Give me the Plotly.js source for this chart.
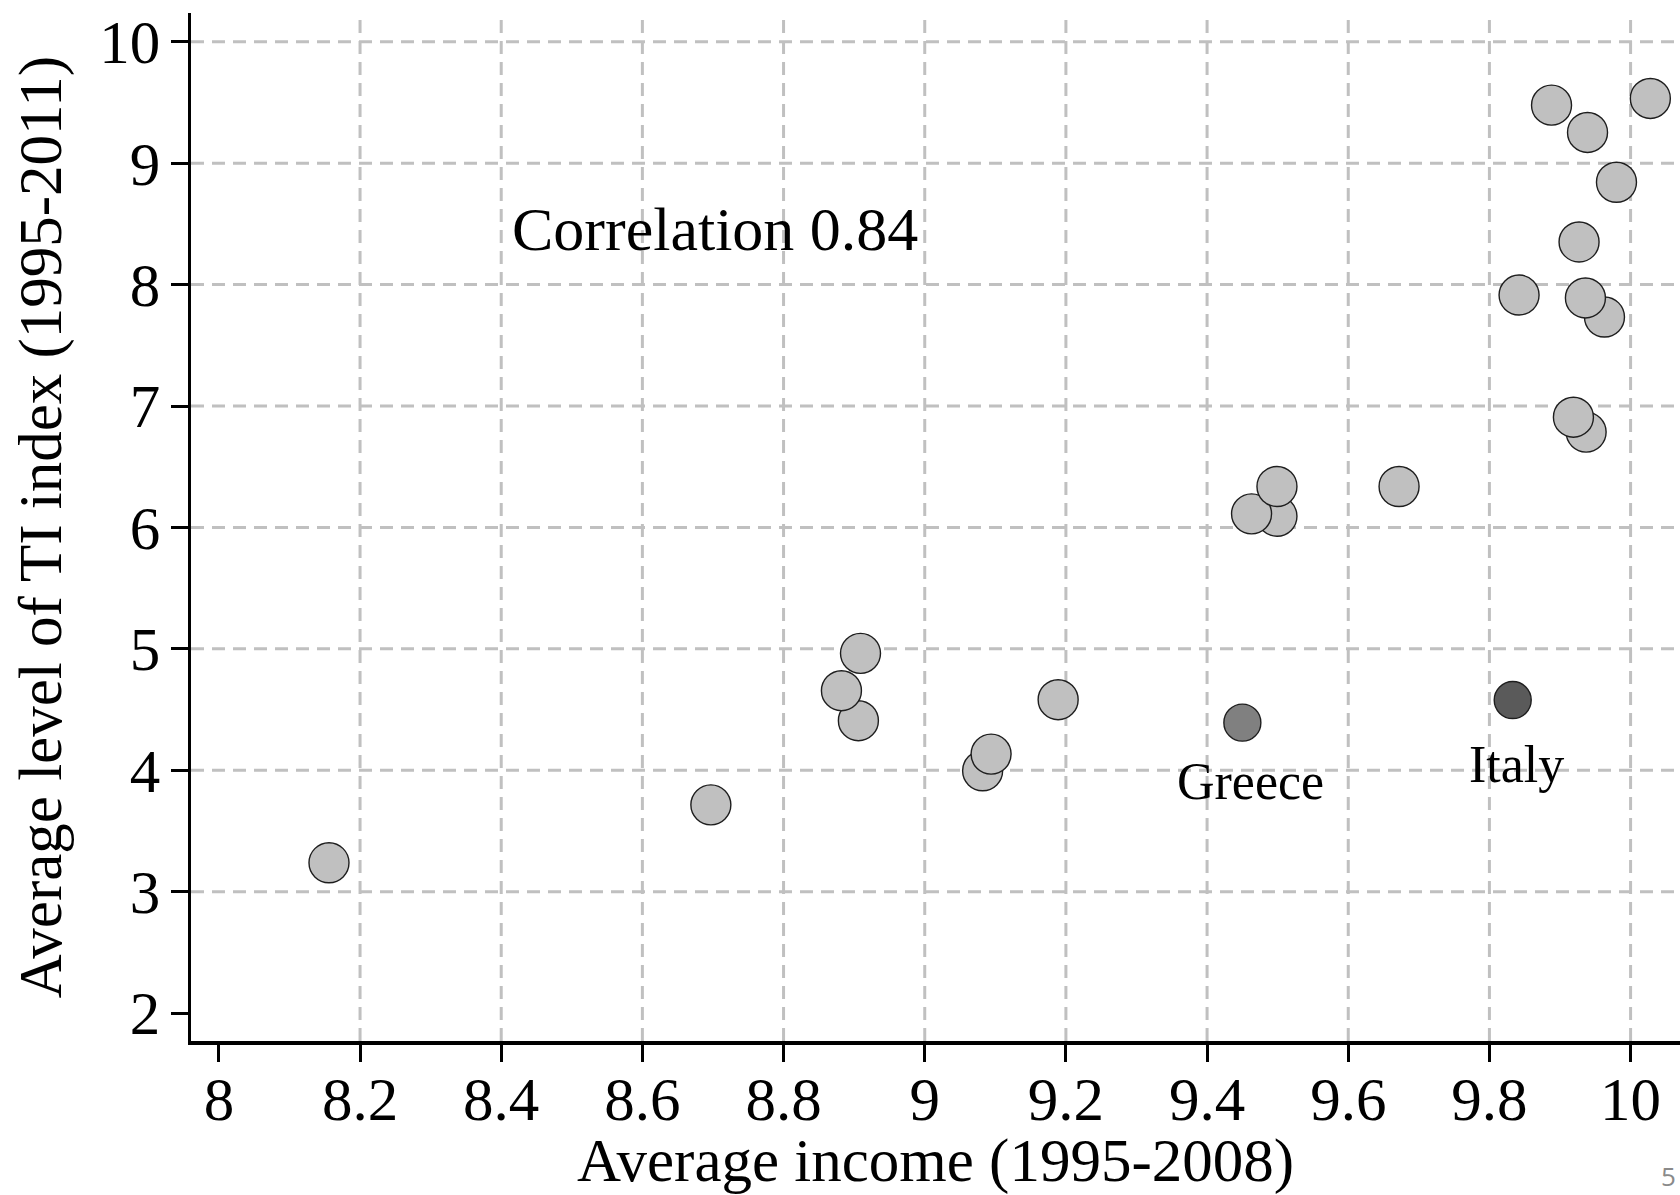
<!DOCTYPE html>
<html>
<head>
<meta charset="utf-8">
<script src="https://cdn.plot.ly/plotly-3.0.1.min.js"></script>
<style>
  html, body { margin: 0; padding: 0; background: #ffffff; }
  #chart { width: 1680px; height: 1195px; }
</style>
</head>
<body>
<div id="chart"></div>
<script>
// Other countries: average income (1995-2008) vs average TI index (1995-2011)
const incomeX = [8.156, 8.697, 8.906, 8.882, 8.909, 9.082, 9.094, 9.189, 9.499, 9.463, 9.499, 9.672, 9.888, 9.939, 10.028, 9.980, 9.927, 9.842, 9.963, 9.936, 9.937, 9.919];
const tiY     = [3.238, 3.715, 4.408, 4.655, 4.963, 3.996, 4.133, 4.581, 6.092, 6.112, 6.337, 6.337, 9.478, 9.253, 9.533, 8.843, 8.351, 7.914, 7.733, 7.890, 6.785, 6.908];

// Highlighted countries
const greeceX = [9.450];
const greeceY = [4.392];
const italyX  = [9.833];
const italyY  = [4.578];

// Axis ticks
const xTicks = [8, 8.2, 8.4, 8.6, 8.8, 9, 9.2, 9.4, 9.6, 9.8, 10];
const xTickText = ["8", "8.2", "8.4", "8.6", "8.8", "9", "9.2", "9.4", "9.6", "9.8", "10"];
const yTicks = [2, 3, 4, 5, 6, 7, 8, 9, 10];
const yTickText = ["2", "3", "4", "5", "6", "7", "8", "9", "10"];
// Gridlines drawn for these values only
const xGrid = [8.2, 8.4, 8.6, 8.8, 9, 9.2, 9.4, 9.6, 9.8, 10];
const yGrid = [3, 4, 5, 6, 7, 8, 9, 10];

const correlationText = "Correlation 0.84";

const serif = "Liberation Serif";
const gridStyle = { color: "#c0c0c0", width: 3, dash: "13px,8px" };

const shapes = [];
xGrid.forEach(v => shapes.push({
  type: "line", xref: "x", yref: "paper", x0: v, x1: v, y0: 0, y1: 1,
  line: gridStyle, layer: "below"
}));
yGrid.forEach(v => shapes.push({
  type: "line", xref: "paper", yref: "y", x0: 0, x1: 1, y0: v, y1: v,
  line: gridStyle, layer: "below"
}));

const markerLine = { color: "#1e1e1e", width: 1.4 };

const traces = [
  {
    type: "scatter", mode: "markers", x: incomeX, y: tiY,
    marker: { size: 40, color: "#c0c0c0", line: markerLine },
    hoverinfo: "x+y", showlegend: false
  },
  {
    type: "scatter", mode: "markers", x: greeceX, y: greeceY, name: "Greece",
    marker: { size: 37, color: "#808080", line: markerLine },
    showlegend: false
  },
  {
    type: "scatter", mode: "markers", x: italyX, y: italyY, name: "Italy",
    marker: { size: 37, color: "#5a5a5a", line: markerLine },
    showlegend: false
  }
];

const layout = {
  width: 1680, height: 1195,
  margin: { l: 190.7, r: 0, t: 13, b: 154 },
  paper_bgcolor: "#ffffff", plot_bgcolor: "#ffffff",
  font: { family: serif, color: "#000000", size: 60 },
  showlegend: false,
  xaxis: {
    range: [7.9605, 10.070],
    tickmode: "array", tickvals: xTicks, ticktext: xTickText,
    ticks: "outside", ticklen: 17, tickwidth: 3, tickcolor: "#000",
    showline: true, linecolor: "#000", linewidth: 3.5,
    showgrid: false, zeroline: false,
    tickfont: { family: serif, size: 61, color: "#000" },
    ticklabelstandoff: -15,
    title: { text: "Average income (1995-2008)", font: { family: serif, size: 61, color: "#000" }, standoff: 19 }
  },
  yaxis: {
    range: [1.770, 10.237],
    tickmode: "array", tickvals: yTicks, ticktext: yTickText,
    ticks: "outside", ticklen: 17, tickwidth: 3, tickcolor: "#000",
    showline: true, linecolor: "#000", linewidth: 3.5,
    showgrid: false, zeroline: false,
    tickfont: { family: serif, size: 61, color: "#000" },
    ticklabelstandoff: -2,
    title: { text: "Average level of TI index (1995-2011)", font: { family: serif, size: 61, color: "#000" }, standoff: 19 }
  },
  shapes: shapes,
  annotations: [
    { x: 8.703, y: 8.46, xref: "x", yref: "y", text: correlationText, showarrow: false,
      font: { family: serif, size: 62, color: "#000" }, xanchor: "center", yanchor: "middle" },
    { x: greeceX[0] + 0.012, y: 3.91, xref: "x", yref: "y", text: "Greece", showarrow: false,
      font: { family: serif, size: 52, color: "#000" }, xanchor: "center", yanchor: "middle" },
    { x: italyX[0] + 0.006, y: 4.05, xref: "x", yref: "y", text: "Italy", showarrow: false,
      font: { family: serif, size: 52, color: "#000" }, xanchor: "center", yanchor: "middle" }
  ]
};

// slide number in the corner (pixel position converted to paper coords)
const plotW = 1680 - 190.7, plotH = 1195 - 13 - 154;
layout.annotations.push({
  xref: "paper", yref: "paper",
  x: (1677 - 190.7) / plotW, y: (1195 - 154 - 1176) / plotH,
  text: "5", showarrow: false, xanchor: "right", yanchor: "middle", borderpad: 0,
  font: { family: "Open Sans, Liberation Sans, sans-serif", size: 26, color: "#8a8a8a" }
});

Plotly.newPlot("chart", traces, layout, { displayModeBar: false, staticPlot: true });
</script>
</body>
</html>
